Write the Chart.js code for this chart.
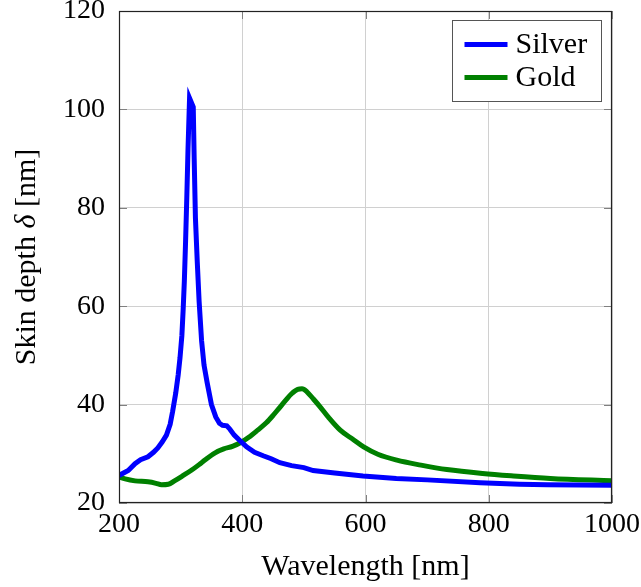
<!DOCTYPE html>
<html>
<head>
<meta charset="utf-8">
<script src="https://cdn.jsdelivr.net/npm/chart.js@4"></script>
<style>
  html, body { margin: 0; padding: 0; background: #fff; }
  canvas { display: block; }
</style>
</head>
<body>
<canvas id="skinChart" width="641" height="587"></canvas>
<script>
// skin depth of silver and gold vs wavelength
const silverWavelength = [200, 215, 226, 235, 247, 256, 263, 270, 277, 283, 287, 292, 296, 299, 302, 304, 306, 308, 310, 312, 314.5,
  320.5, 322, 324, 327, 330, 334, 338, 343, 350, 357, 363, 368, 375, 380, 387, 396, 407, 420, 434, 447, 461, 480, 500, 515,
  550, 596, 650, 700, 786, 850, 895, 1000];
const silverDepth = [25.6, 26.6, 28.0, 28.8, 29.4, 30.3, 31.2, 32.4, 33.8, 36, 38.6, 42.3, 46, 49.5, 54, 59, 65, 73, 82, 92, 102.3,
  100.5, 90, 78, 69, 61, 53, 48, 44.5, 40, 37.5, 36.2, 35.8, 35.7, 35, 33.8, 32.7, 31.4, 30.3, 29.6, 29, 28.2, 27.6, 27.2, 26.6,
  26.1, 25.5, 25, 24.7, 24.1, 23.8, 23.7, 23.6];

const goldWavelength = [200, 210, 226, 247, 260, 269, 280, 290, 303, 318, 330, 340, 356, 370, 384, 399, 410, 425, 439, 450,
  460, 470, 480, 490, 497, 505, 515, 526, 540, 559, 580, 597, 620, 651, 690, 732, 790, 840, 900, 1000];
const goldDepth = [25.3, 24.9, 24.5, 24.3, 24, 23.7, 23.8, 24.5, 25.5, 26.7, 27.8, 28.8, 30.2, 31, 31.5, 32.4, 33.3, 34.8, 36.3, 37.8,
  39.3, 40.8, 42.2, 43.1, 43.2, 42.6, 41.2, 39.6, 37.4, 34.8, 32.9, 31.4, 29.9, 28.7, 27.7, 26.8, 26, 25.5, 25, 24.5];

const seriesLabels = ['Silver', 'Gold'];
const seriesColors = ['#0000ff', '#008000'];
const xTicks = [200, 400, 600, 800, 1000];
const yTicks = [20, 40, 60, 80, 100, 120];
const xTitle = 'Wavelength [nm]';
const yTitle = ['Skin depth ', 'δ', ' [nm]'];

const FONT = '"Liberation Serif", "DejaVu Serif", serif';

function toPoints(xs, ys) {
  return xs.map((v, i) => ({ x: v, y: ys[i] }));
}

// frame, inward ticks, axis titles and the boxed legend
const decorations = {
  id: 'decorations',
  afterDraw(chart) {
    const { ctx, chartArea: a, scales: { x, y } } = chart;
    ctx.save();

    ctx.strokeStyle = '#808080';
    ctx.lineWidth = 1;
    ctx.beginPath();
    xTicks.forEach(v => {
      const px = Math.round(x.getPixelForValue(v)) + 0.5;
      ctx.moveTo(px, a.bottom); ctx.lineTo(px, a.bottom - 8);
      ctx.moveTo(px, a.top); ctx.lineTo(px, a.top + 8);
    });
    yTicks.forEach(v => {
      const py = Math.round(y.getPixelForValue(v)) + 0.5;
      ctx.moveTo(a.left, py); ctx.lineTo(a.left + 8, py);
      ctx.moveTo(a.right, py); ctx.lineTo(a.right - 8, py);
    });
    ctx.stroke();

    ctx.strokeStyle = '#222';
    ctx.lineWidth = 1.2;
    ctx.strokeRect(a.left + 0.5, a.top + 0.5, a.width - 1, a.height - 1);

    // axis titles
    ctx.fillStyle = '#000';
    ctx.font = '30px ' + FONT;
    ctx.textAlign = 'center';
    ctx.textBaseline = 'middle';
    ctx.fillText(xTitle, (a.left + a.right) / 2, 567);

    ctx.save();
    ctx.translate(27, (a.top + a.bottom) / 2);
    ctx.rotate(-Math.PI / 2);
    ctx.textAlign = 'left';
    const fonts = ['30px ' + FONT, 'italic 30px ' + FONT, '30px ' + FONT];
    let total = 0;
    const widths = yTitle.map((s, i) => { ctx.font = fonts[i]; const w = ctx.measureText(s).width; total += w; return w; });
    let cx = -total / 2;
    yTitle.forEach((s, i) => { ctx.font = fonts[i]; ctx.fillText(s, cx, 0); cx += widths[i]; });
    ctx.restore();

    // legend box
    const bx = a.right - 159.5, by = a.top + 9.5, bw = 149, bh = 81;
    ctx.fillStyle = '#fff';
    ctx.fillRect(bx, by, bw, bh);
    ctx.strokeStyle = '#555';
    ctx.lineWidth = 1;
    ctx.strokeRect(bx, by, bw, bh);
    ctx.font = '30px ' + FONT;
    ctx.textAlign = 'left';
    chart.data.datasets.forEach((ds, i) => {
      const ly = by + 24 + i * 33;
      ctx.strokeStyle = ds.borderColor;
      ctx.lineWidth = 5;
      ctx.beginPath();
      ctx.moveTo(bx + 12, ly); ctx.lineTo(bx + 55, ly);
      ctx.stroke();
      ctx.fillStyle = '#000';
      ctx.fillText(ds.label, bx + 63, ly + 1);
    });

    ctx.restore();
  }
};

new Chart(document.getElementById('skinChart'), {
  type: 'line',
  data: {
    datasets: [
      { label: seriesLabels[0], data: toPoints(silverWavelength, silverDepth), borderColor: seriesColors[0], tension: 0 },
      { label: seriesLabels[1], data: toPoints(goldWavelength, goldDepth), borderColor: seriesColors[1], cubicInterpolationMode: 'monotone' }
    ]
  },
  options: {
    responsive: false,
    animation: false,
    devicePixelRatio: 1,
    layout: { padding: { top: 11, right: 29, left: 0, bottom: 0 } },
    elements: {
      line: { borderWidth: 5, borderJoinStyle: 'miter', fill: false },
      point: { radius: 0 }
    },
    plugins: { legend: { display: false }, tooltip: { enabled: false } },
    scales: {
      x: {
        type: 'linear',
        min: xTicks[0],
        max: xTicks[xTicks.length - 1],
        ticks: {
          stepSize: xTicks[1] - xTicks[0], padding: 5, color: '#000', font: { family: FONT, size: 28 },
          callback: v => String(v)
        },
        grid: { color: '#d0d0d0', drawTicks: false },
        border: { display: false },
        afterFit(scale) { scale.height = 84; scale.paddingLeft = 0; scale.paddingRight = 0; }
      },
      y: {
        min: yTicks[0],
        max: yTicks[yTicks.length - 1],
        ticks: {
          stepSize: yTicks[1] - yTicks[0], padding: 14, color: '#000', font: { family: FONT, size: 28 },
          callback: v => String(v)
        },
        grid: { color: '#d0d0d0', drawTicks: false },
        border: { display: false },
        afterFit(scale) { scale.width = 119; scale.paddingTop = 0; scale.paddingBottom = 0; }
      }
    }
  },
  plugins: [decorations]
});
</script>
</body>
</html>
